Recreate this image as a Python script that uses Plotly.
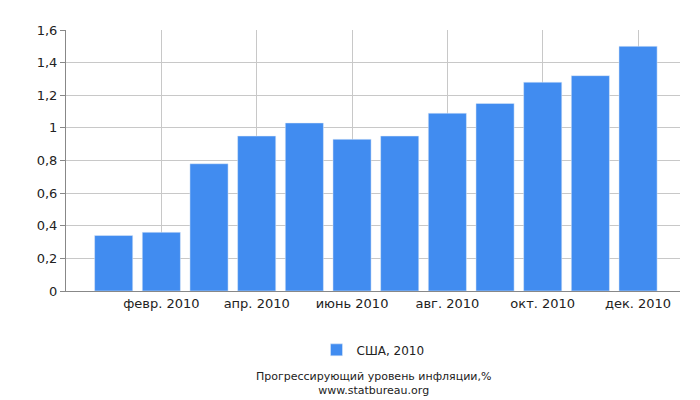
import plotly.graph_objects as go

months = ["янв. 2010","февр. 2010","март 2010","апр. 2010","май 2010","июнь 2010","июль 2010","авг. 2010","сент. 2010","окт. 2010","нояб. 2010","дек. 2010"]
values = [0.34, 0.36, 0.78, 0.95, 1.03, 0.93, 0.95, 1.09, 1.15, 1.28, 1.32, 1.50]
series_name = "США, 2010"
yticks = [0, 0.2, 0.4, 0.6, 0.8, 1, 1.2, 1.4, 1.6]
ytext = ["0", "0,2", "0,4", "0,6", "0,8", "1", "1,2", "1,4", "1,6"]

xs = list(range(len(months)))
fig = go.Figure(go.Bar(x=xs, y=values, name=series_name, marker_color="#418CF0", width=0.8))
fig.update_layout(
    width=700, height=400, margin=dict(l=58, r=28, t=22, b=117, autoexpand=False),
    plot_bgcolor="white", paper_bgcolor="white",
    font=dict(family="DejaVu Sans", size=13, color="#222"),
    showlegend=True,
    legend=dict(orientation="h", x=0.5, xanchor="center", y=-0.17, yanchor="top", font=dict(size=12)),
    xaxis=dict(range=[-1, 11.88], tickvals=xs[1::2], ticktext=months[1::2], showgrid=True, automargin=False,
               gridcolor="#c8c8c8", showline=True, linecolor="#888", ticks="", tickfont=dict(size=13)),
    yaxis=dict(range=[0, 1.6], tickvals=yticks, ticktext=ytext, showgrid=True, gridcolor="#c8c8c8",
               automargin=False,
               showline=True, linecolor="#888", ticks="outside", ticklen=5, tickcolor="#888",
               tickfont=dict(size=13), zeroline=False),
    annotations=[dict(text="Прогрессирующий уровень инфляции,%<br>www.statbureau.org", x=0.5, y=0,
                      xref="paper", yref="paper", yanchor="bottom", showarrow=False,
                      font=dict(size=11), xanchor="center", yshift=-108)],
)
fig.write_html("out.html")
